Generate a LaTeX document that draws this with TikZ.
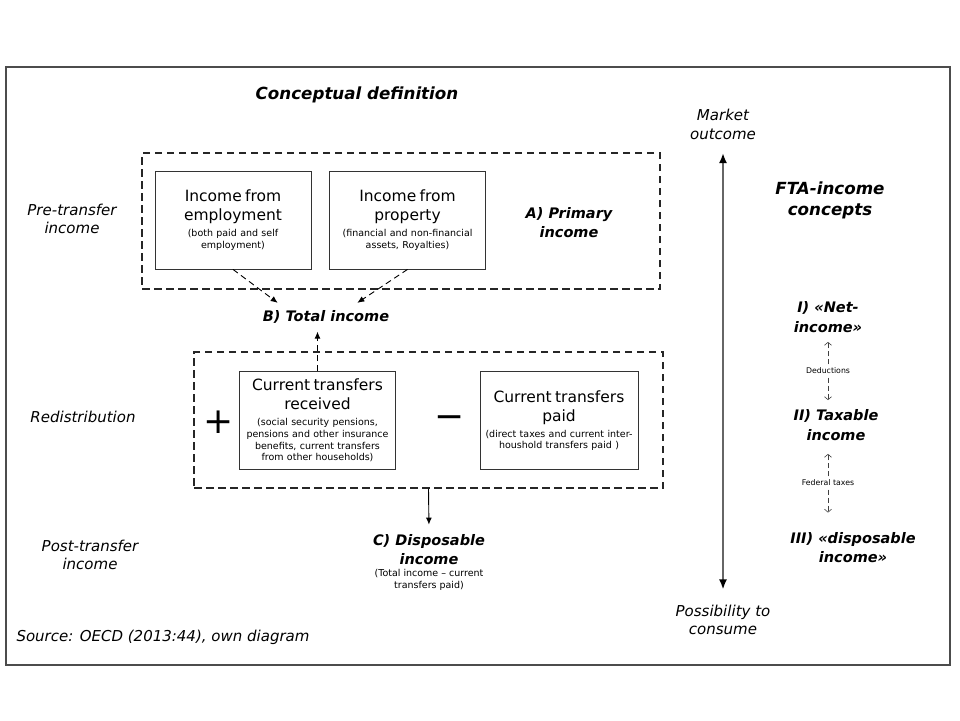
\documentclass[tikz,border=0pt]{standalone}
\usepackage{fontspec}
\setmainfont{DejaVu Sans}
\usetikzlibrary{arrows.meta,positioning}

\newcommand{\boxtext}[2]{{\fontsize{15.5}{19}\selectfont #1\par}\vspace{4.5pt}{\fontsize{9.5}{11.6}\selectfont #2\par}}

\begin{document}
\begin{tikzpicture}[x=1pt, y=-1pt,
  block/.style={draw=black!80, line width=0.8pt, minimum height=98pt, text width=150pt, inner sep=3pt, align=center},
  group/.style={draw=black!85, line width=1.2pt, dash pattern=on 7.5pt off 4.5pt, inner sep=0pt},
  side/.style={font=\fontsize{15}{18.5}\selectfont\itshape, align=center},
  concept/.style={font=\fontsize{14.5}{19.5}\selectfont\bfseries\itshape, align=center},
  note/.style={font=\fontsize{9.5}{11.8}\selectfont, align=center, inner sep=1pt},
  sign/.style={font=\fontsize{36}{36}\selectfont, inner sep=0pt},
  link/.style={-{Latex[length=7pt,width=6pt]}, dash pattern=on 6pt off 4pt, line width=0.9pt},
  tip/.style={-{Straight Barb[length=3pt,width=7pt]}, dash pattern=on 5pt off 3pt, line width=0.6pt, black!75}
]
\useasboundingbox (0,0) rectangle (960,720);
\draw[black!70, line width=1.5pt] (6,67) rectangle (950,665);

% left column
\node[font=\fontsize{16.7}{20}\selectfont\bfseries\itshape] (title) at (357,95) {Conceptual definition};
\node[side] (pre) at (72,219) {Pre-transfer\\income};
\node[side] (redis) at (83,417) {Redistribution};
\node[side] (post) at (90,555) {Post-transfer\\income};
\node[side, anchor=west] (source) at (13,637) {Source: OECD (2013:44), own diagram};

% primary income
\node[group, minimum width=518pt, minimum height=136pt] (primary) at (401,221) {};
\node[block] (employ) at (233,220) {\boxtext{Income from\\employment}{(both paid and self\\employment)}};
\node[block] (property) at (407.5,220) {\boxtext{Income from\\property}{(financial and non-financial\\assets, Royalties)}};
\node[concept] (primlabel) at (569,222.5) {A) Primary\\income};
\node[concept, inner sep=2pt] (total) at (326,317) {B) Total income};

% redistribution
\node[group, minimum width=469pt, minimum height=136pt] (transfers) at (428.5,420) {};
\node[sign] (plus) at (219,422) {+};
\node[block] (recv) at (317.5,420.5) {\boxtext{Current transfers\\received}{(social security pensions,\\pensions and other insurance\\benefits, current transfers\\from other households)}};
\node[sign] (minus) at (450,422) {−};
\node[block, text width=152pt] (paid) at (559,420.5) {\boxtext{Current transfers\\paid}{(direct taxes and current inter-\\houshold transfers paid )}};

\node[concept] (disp) at (429,549.5) {C) Disposable\\income};
\node[note] (dispnote) at (429,580) {(Total income – current\\transfers paid)};

\draw[link] (employ.south) -- ([xshift=17pt,yshift=5.5pt]total.north west);
\draw[link] (property.south) -- ([xshift=-34pt,yshift=5.5pt]total.north east);
\draw[link, shorten >=6pt] (recv.north) -- (recv.north |- total.south);
\draw[-{Latex[length=7pt,width=6pt]}, line width=0.9pt, shorten >=6pt] (transfers.south) -- (disp.north);

% right column
\node[side] (market) at (723,124.5) {Market\\outcome};
\node[side] (consume) at (723,620) {Possibility to\\consume};
\draw[{Latex[length=10pt,width=8pt,black]}-{Latex[length=10pt,width=8pt,black]}, line width=1.8pt, black!60, shorten <=10pt, shorten >=12pt] (market) -- (consume);

\node[font=\fontsize{16.7}{21}\selectfont\bfseries\itshape, align=center] (fta) at (830,200.5) {FTA-income\\concepts};
\node[concept] (net) at (828,317) {I) «Net-\\income»};
\node[concept] (taxable) at (836,425) {II) Taxable\\income};
\node[concept] (dispfta) at (853,547.5) {III) «disposable\\income»};
\node[font=\fontsize{7.8}{9}\selectfont] (ded) at (828,371) {Deductions};
\node[font=\fontsize{7.8}{9}\selectfont] (fed) at (828,483) {Federal taxes};

\draw[tip] (ded.north) -- ([yshift=-6pt]ded.north |- net.south);
\draw[tip] (ded.south) -- ([yshift=6pt]ded.south |- taxable.north);
\draw[tip] (fed.north) -- ([yshift=-10pt]fed.north |- taxable.south);
\draw[tip] (fed.south) -- ([yshift=16pt]fed.south |- dispfta.north);
\end{tikzpicture}
\end{document}
